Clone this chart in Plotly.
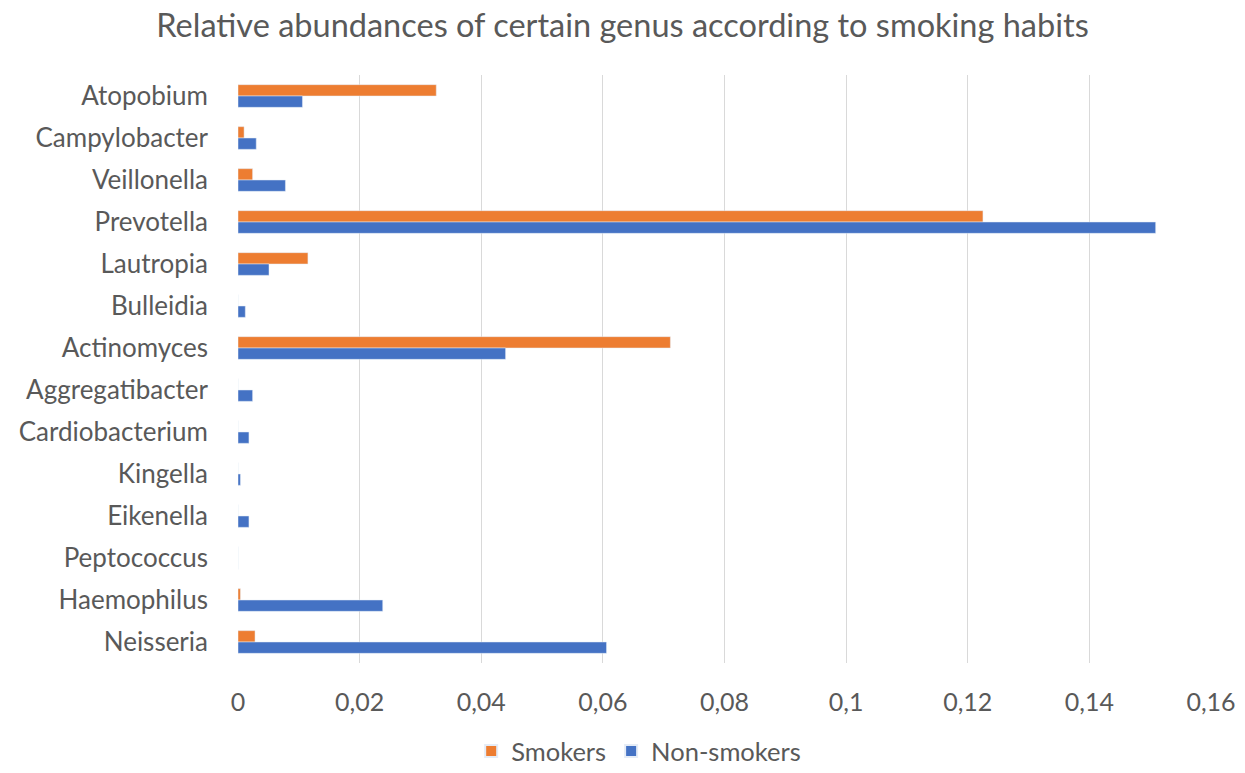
import plotly.graph_objects as go

# Genus names, listed top to bottom
genera = ["Atopobium", "Campylobacter", "Veillonella", "Prevotella", "Lautropia",
          "Bulleidia", "Actinomyces", "Aggregatibacter", "Cardiobacterium", "Kingella",
          "Eikenella", "Peptococcus", "Haemophilus", "Neisseria"]

smokers = [0.0326, 0.0010, 0.0024, 0.1225, 0.0115,
           0.0, 0.0711, 0.0, 0.0, 0.0,
           0.0, 0.0, 0.0004, 0.0028]

non_smokers = [0.0106, 0.0030, 0.0078, 0.1509, 0.0051,
               0.0012, 0.0440, 0.0024, 0.0018, 0.0004,
               0.0018, 0.0, 0.0238, 0.0606]

x_ticks = [0, 0.02, 0.04, 0.06, 0.08, 0.1, 0.12, 0.14, 0.16]

FONT = "Lato"
TEXT = "#595959"

fig = go.Figure()
fig.add_trace(go.Bar(y=genera, x=smokers, name="Smokers", orientation="h",
                     marker=dict(color="#ED7D31")))
fig.add_trace(go.Bar(y=genera, x=non_smokers, name="Non-smokers", orientation="h",
                     marker=dict(color="#4472C4")))

fig.update_layout(
    width=1245, height=773,
    margin=dict(l=238, r=34, t=75, b=110, autoexpand=False),
    paper_bgcolor="white", plot_bgcolor="white",
    separators=", ",
    barmode="group", bargap=0.46, bargroupgap=0,
    font=dict(family=FONT, color=TEXT, size=26),
    title=dict(text="Relative abundances of certain genus according to smoking habits",
               x=0.5, xanchor="center", y=0.967, yanchor="middle",
               font=dict(family=FONT, size=32.5, color=TEXT)),
    legend=dict(orientation="h", xref="container", x=0.513, xanchor="center",
                yref="container", y=0.028, yanchor="middle",
                font=dict(size=25.5, color=TEXT), itemsizing="constant"),
    showlegend=True,
)
fig.update_xaxes(range=[0, 0.16], tickvals=x_ticks, showgrid=True, gridcolor="#D9D9D9",
                 gridwidth=1, zeroline=False, showline=False, ticks="", automargin=False,
                 tickfont=dict(size=25, color=TEXT), ticklabelstandoff=22)
fig.update_yaxes(autorange="reversed", showgrid=False, zeroline=False, showline=False,
                 ticks="", automargin=False,
                 tickfont=dict(size=26, color=TEXT), ticklabelstandoff=29)

fig.write_html("out.html")
